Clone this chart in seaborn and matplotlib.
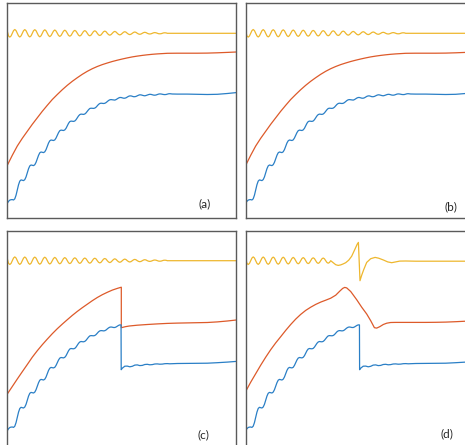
import numpy as np
import pandas as pd
import matplotlib
matplotlib.use("Agg")
import matplotlib.pyplot as plt
import seaborn as sns

# ---------------- data (x = time samples, y = signal level) ----------------
T_TAIL = [170, 180, 190, 200, 210, 220, 229]

# yellow trace, panels (a)-(c)
T_YELLOW = list(np.arange(0, 161.25, 1.25)) + T_TAIL
YELLOW_A = [187, 182.3, 181.2, 182.3, 185, 187.7, 188.8, 187.7,
            185, 182.4, 181.3, 182.4, 185, 187.6, 188.7, 187.6,
            185, 182.4, 181.4, 182.4, 185, 187.6, 188.6, 187.6,
            185, 182.5, 181.5, 182.5, 185, 187.5, 188.5, 187.5,
            185, 182.7, 181.7, 182.7, 185, 187.3, 188.3, 187.3,
            185, 182.8, 181.9, 182.8, 185, 187.2, 188.1, 187.2,
            185, 182.9, 182.1, 182.9, 185, 187.1, 187.9, 187.1,
            185, 183.1, 182.3, 183.1, 185, 186.9, 187.7, 186.9,
            185, 183.2, 182.5, 183.2, 185, 186.8, 187.5, 186.8,
            185, 183.4, 182.8, 183.4, 185, 186.6, 187.2, 186.6,
            185, 183.7, 183.1, 183.7, 185, 186.3, 186.9, 186.3,
            185, 183.9, 183.4, 183.9, 185, 186.1, 186.6, 186.1,
            185, 184.1, 183.7, 184.1, 185, 185.9, 186.3, 185.9,
            185, 184.3, 184.0, 184.3, 185, 185.7, 186.0, 185.7,
            185, 184.5, 184.3, 184.5, 185, 185.5, 185.7, 185.5,
            185, 184.6, 184.5, 184.6, 185, 185.4, 185.5, 185.4,
            185,
            185, 185, 185, 185, 185, 185, 185]

# blue trace, panels (a)-(b)
T_BLUE_A = list(np.arange(0, 165, 1.25)) + [165] + T_TAIL
BLUE_A = [15, 17.0, 18.2, 18.6,
          18.7, 18.3, 19.5, 23.1, 28.4, 33.6, 37.2, 38.4,
          38.0, 37.7, 38.7, 41.4, 45.5, 49.6, 52.4, 53.3,
          53.0, 52.7, 53.6, 56.0, 59.5, 63.0, 65.5, 66.3,
          66.0, 65.7, 66.5, 68.7, 72.0, 75.3, 77.5, 78.3,
          78.0, 77.8, 78.4, 80.3, 83.0, 85.7, 87.6, 88.2,
          88.0, 87.8, 88.4, 90.0, 92.5, 95.0, 96.7, 97.2,
          97.0, 96.9, 97.3, 98.6, 100.5, 102.4, 103.7, 104.2,
          104.0, 103.9, 104.3, 105.4, 107.0, 108.6, 109.8, 110.1,
          110.0, 109.9, 110.2, 111.1, 112.5, 113.9, 114.8, 115.1,
          115.0, 114.8, 115.0, 115.7, 116.8, 117.8, 118.5, 118.7,
          118.5, 118.2, 118.2, 118.7, 119.5, 120.3, 120.8, 120.8,
          120.5, 120.1, 120.1, 120.5, 121.3, 122.0, 122.4, 122.4,
          122.0, 121.6, 121.6, 121.9, 122.5, 123.1, 123.5, 123.4,
          123.0, 122.7, 122.5, 122.8, 123.3, 123.7, 124.0, 123.9,
          123.5, 123.2, 123.1, 123.3, 123.8, 124.2, 124.4, 124.3,
          124.0, 123.8, 123.7, 123.8, 124.2, 124.5, 124.6, 124.5,
          124.3,
          124.2, 124.2, 124.0, 123.8, 124.0, 124.8, 125.7]

# orange trace, panels (a)-(b)
T_ORANGE_A = list(np.arange(0, 165, 5)) + T_TAIL
ORANGE_A = [53, 63, 72.3, 80, 87, 94, 100.5, 107, 113, 118.8, 123.8, 128.6, 133,
            137, 140.6, 144, 147, 149.6, 151.8, 153.7, 155.3, 156.8, 158.1, 159.3,
            160.4, 161.4, 162.2, 162.9, 163.5, 164, 164.4, 164.7, 165,
            165.1, 165.1, 165.1, 165.2, 165.5, 165.9, 166.3]

# blue trace, panels (c)-(d): sudden drop at t = 113.9
T_BLUE_C = T_BLUE_A[:92] + [113.9] + list(np.arange(115, 167.5, 2.5)) + T_TAIL
BLUE_C = BLUE_A[:92] + [76.0,
                        77.5, 79.5, 79.6, 78.9, 79.4, 80.6, 80.8, 80.1, 80.3, 81.2, 81.4,
                        80.9, 81.1, 81.7, 81.8, 81.5, 81.6, 82.0, 82.1, 81.9, 82.0,
                        82.2, 82.3, 82.4, 82.5, 83.0, 83.6, 84.3]

# orange trace, panel (c)
T_ORANGE_C = list(np.arange(0, 115, 5)) + [114, 114, 118, 122, 126, 130, 140, 150, 160] + T_TAIL
ORANGE_C = [51.7, 59.2, 66.7, 74, 81.2, 88.5, 95, 101, 106.6, 112, 117, 121.6, 126,
            130.3, 134.3, 138, 141.5, 145, 148.2, 151, 153.4, 155.6, 157.3,
            158.5, 118, 119, 119.7, 120.1, 120.5, 121.2, 121.8, 122.3,
            122.6, 122.8, 123, 123.2, 123.8, 124.7, 125.7]

# orange trace, panel (d)
T_ORANGE_D = list(np.arange(0, 90, 5)) + [90, 94, 97, 99, 101, 105, 111, 116, 121, 125,
                                          128.7, 131, 134, 137.6, 141, 145, 150, 160] + T_TAIL
ORANGE_D = [54.3, 63.5, 72, 80.5, 88.5, 96, 102.8, 109, 115.3, 121.2, 126.6, 131.3,
            135.3, 138.5, 141.3, 143.6, 145.5, 147.5,
            150.5, 154.5, 157.3, 158.3, 157.8, 154.2, 146, 138.5, 131.7, 125,
            118, 117.6, 119, 121.2, 122.5, 123.2, 123.3, 123.3,
            123.3, 123.3, 123.4, 123.6, 124, 124.5, 125]

# yellow trace, panel (d)
T_YELLOW_D = T_YELLOW[:69] + [87.5, 90, 92.5, 95, 97.5, 100, 103, 106, 109, 111.5, 112.7,
                              114.3, 116, 118, 121, 125, 129.4, 133, 137.7, 142, 146,
                              150, 154, 160] + T_TAIL
YELLOW_D = YELLOW_A[:69] + [183, 181, 180.3, 180.8, 181.8, 183, 185.5, 189.5, 196, 201.5,
                            203.3, 165, 170.5, 176, 183.3, 187, 188.3, 187.5, 185.7,
                            183.8, 183, 183.8, 184.6, 184.7,
                            184.5, 184.5, 184.5, 184.5, 184.5, 184.5, 184.5]

LABELS = ["(a)", "(b)", "(c)", "(d)"]

BLUE = "#2a7fc6"
ORANGE = "#dd5a2a"
YELLOW = "#eeb72e"

panels = [
    dict(pos=(7.3, 3.3), label=LABELS[0], lab=(197.7, 14.3),
         series=[(T_YELLOW, YELLOW_A, YELLOW), (T_ORANGE_A, ORANGE_A, ORANGE), (T_BLUE_A, BLUE_A, BLUE)]),
    dict(pos=(245.7, 3.3), label=LABELS[1], lab=(205, 11.6),
         series=[(T_YELLOW, YELLOW_A, YELLOW), (T_ORANGE_A, ORANGE_A, ORANGE), (T_BLUE_A, BLUE_A, BLUE)]),
    dict(pos=(7.3, 230.7), label=LABELS[2], lab=(196, 10.7),
         series=[(T_YELLOW, YELLOW_A, YELLOW), (T_ORANGE_C, ORANGE_C, ORANGE), (T_BLUE_C, BLUE_C, BLUE)]),
    dict(pos=(245.7, 230.7), label=LABELS[3], lab=(201.6, 12.4),
         series=[(T_YELLOW_D, YELLOW_D, YELLOW), (T_ORANGE_D, ORANGE_D, ORANGE), (T_BLUE_C, BLUE_C, BLUE)]),
]

sns.set_style("white")
W, H = 465, 445
PW, PH = 229, 215
fig = plt.figure(figsize=(W / 100, H / 100), dpi=100)

for p in panels:
    left, top = p["pos"]
    ax = fig.add_axes([left / W, 1 - (top + PH) / H, PW / W, PH / H])
    for x, y, c in p["series"]:
        df = pd.DataFrame({"t": x, "v": y})
        sns.lineplot(data=df, x="t", y="v", ax=ax, color=c, linewidth=0.9,
                     estimator=None, sort=False)
    ax.set_xlim(0, PW)
    ax.set_ylim(0, PH)
    ax.set_xticks([])
    ax.set_yticks([])
    ax.set_xlabel("")
    ax.set_ylabel("")
    for s in ax.spines.values():
        s.set_color("#5a5a5a")
        s.set_linewidth(1.0)
    ax.text(p["lab"][0], p["lab"][1], p["label"], ha="center", va="center",
            fontsize=8.5, family="Lato", color="#262626")

fig.savefig("out.png", dpi=100)
